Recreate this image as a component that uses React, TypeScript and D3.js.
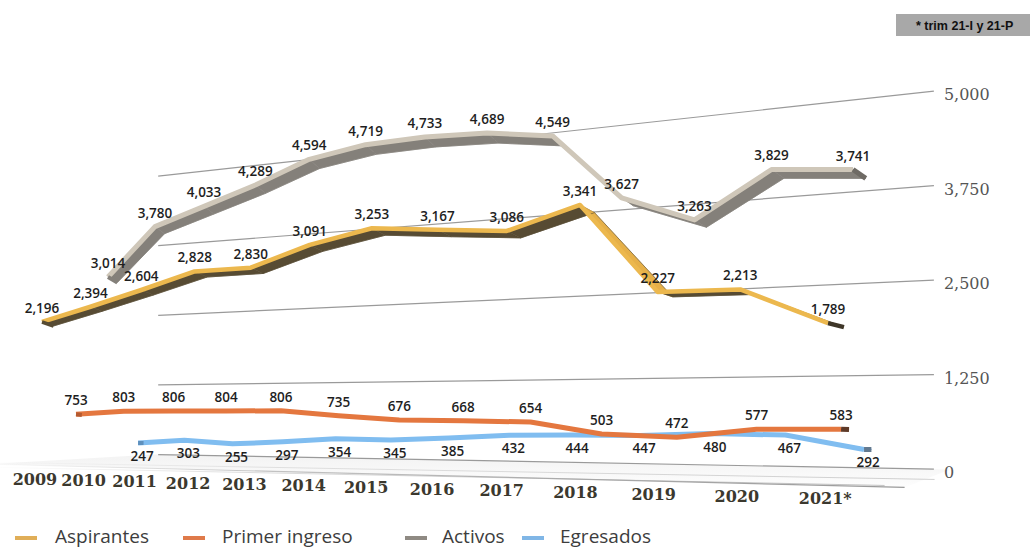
import React from 'react';
import * as d3 from 'd3';

const years = ['2009', '2010', '2011', '2012', '2013', '2014', '2015', '2016', '2017', '2018', '2019', '2020', '2021*'];
const aspirantes = [2196, 2394, 2604, 2828, 2830, 3091, 3253, 3167, 3086, 3341, 2227, 2213, 1789];
const primerIngreso = [753, 803, 806, 804, 806, 735, 676, 668, 654, 503, 472, 577, 583];
const activos = [3014, 3780, 4033, 4289, 4594, 4719, 4733, 4689, 4549, 3627, 3263, 3829, 3741];
const egresados = [247, 303, 255, 297, 354, 345, 385, 432, 444, 447, 480, 467, 292];
const axisTicks = [0, 1250, 2500, 3750, 5000];
const seriesNames = ['Aspirantes', 'Primer ingreso', 'Activos', 'Egresados'];
const footnote = '* trim 21-I y 21-P';

// perspective camera (layout constants)
const CAM = { c1: -0.02307, c2: 0.03215, a1: 46.4, a2: 36.47, a3: 42, b1: -9.54, b2: 12.75, b3: 463.4 };
function project(u: number, h: number, z: number): [number, number, number] {
  const den = 1 + CAM.c1 * u + CAM.c2 * z;
  return [(CAM.a1 * u + CAM.a2 * z + CAM.a3) / den, (CAM.b3 + CAM.b1 * u + CAM.b2 * z - h) / den, den];
}

const styles = [
  { z: 0, top: '#ecb84e', face: '#e6b048', under: '#574b33', cap: '#3e3628', width: 4.5, depth: 11.5, dyK: 1, legend: '#e0ae58', below: false },
  { z: 1, top: '#e4773f', face: '#e4773f', under: '#b45a30', cap: '#5e3a28', width: 5, depth: 6, dyK: 0.6, legend: '#df7a4a', below: false },
  { z: 2, top: '#cfc7b9', face: '#c6beb0', under: '#84807a', cap: '#6e6a64', width: 5, depth: 10, dyK: 1, legend: '#8f8a83', below: false },
  { z: 3, top: '#80bdf0', face: '#80bdf0', under: '#5e90bd', cap: '#62798f', width: 5, depth: 6, dyK: 0.6, legend: '#80b6e6', below: true },
];
const seriesData = [aspirantes, primerIngreso, activos, egresados];
const legendSwatchX = [15, 183, 405, 522];
const legendTextX = [55, 222, 442, 560];

export default function App() {
  const uScale = d3.scalePoint<string>().domain(years).range([0, 12]);
  const hScale = d3.scaleLinear().domain([0, 5000]).range([0, 322]);
  const line = d3.line<[number, number]>();
  const fmt = d3.format(',');

  const wallZ = 4.5;
  const uStart = -0.5;
  const uEnd = 12.7;

  const gridLines = axisTicks.map((t) => {
    const a = project(uStart, hScale(t), wallZ);
    const b = project(uEnd, hScale(t), wallZ);
    return { t, a, b };
  });

  const floorPts: [number, number][] = [
    [-0.6, -0.7], [12.9, -0.7], [12.9, wallZ], [-0.6, wallZ],
  ].map(([u, z]) => {
    const p = project(u, 0, z);
    return [p[0], p[1]];
  });

  const order = [3, 2, 1, 0];
  const ribbons = order.map((si) => {
    const st = styles[si];
    const vals = seriesData[si];
    const pts = vals.map((v, i) => {
      const [x, y, den] = project(uScale(years[i])!, hScale(v), st.z);
      const dx = st.depth / den;
      const dy = st.dyK * (1.5 + 0.032 * (400 - y));
      return { x, y, bx: x + dx, by: y + dy, v };
    });
    const quads = [] as { d: string; fill: string }[];
    for (let i = 0; i < pts.length - 1; i++) {
      const a = pts[i];
      const b = pts[i + 1];
      const sx = b.x - a.x;
      const sy = b.y - a.y;
      const ddx = a.bx - a.x;
      const ddy = a.by - a.y;
      const cross = sx * ddy - sy * ddx;
      quads.push({
        d: line([[a.x, a.y], [b.x, b.y], [b.bx, b.by], [a.bx, a.by]]) + 'Z',
        fill: cross > 0 ? st.under : st.face,
      });
    }
    return { si, st, pts, quads };
  });

  return (
    <svg width={1030} height={550} style={{ position: 'absolute', left: 0, top: 0, background: '#fff' }}>
      <defs>
        <linearGradient id="floorEdge" x1="0" x2="1" y1="0" y2="0">
          <stop offset="0" stopColor="#bbb" stopOpacity={0} />
          <stop offset="0.3" stopColor="#aaa" stopOpacity={0.7} />
          <stop offset="1" stopColor="#999" stopOpacity={1} />
        </linearGradient>
        <linearGradient id="zeroRight" x1="0" x2="1" y1="0" y2="0">
          <stop offset="0" stopColor="#999" stopOpacity={1} />
          <stop offset="1" stopColor="#ccc" stopOpacity={0} />
        </linearGradient>
        <linearGradient id="floorFill" x1="0" x2="0" y1="0" y2="1">
          <stop offset="0" stopColor="#e4e4e4" />
          <stop offset="1" stopColor="#fbfbfb" />
        </linearGradient>
      </defs>

      {/* floor */}
      <path d={line(floorPts) + 'Z'} fill="url(#floorFill)" opacity={0.45} />
      <path d={line([floorPts[0], floorPts[1]])!} stroke="url(#floorEdge)" strokeWidth={1.2} fill="none" />
      <path
        d={line([[floorPts[0][0], floorPts[0][1] + 3], [floorPts[1][0] - 20, floorPts[1][1] - 2]])!}
        stroke="url(#floorEdge)"
        strokeWidth={1}
        fill="none"
        opacity={0.6}
      />
      <path
        d={line([[floorPts[0][0], floorPts[0][1] - 2], [floorPts[1][0] + 30, floorPts[1][1] - 8]])!}
        stroke="url(#floorEdge)"
        strokeWidth={1}
        fill="none"
        opacity={0.45}
      />

      {/* wall gridlines */}
      {gridLines.map((g) => (
        <g key={g.t}>
          <line x1={g.a[0]} y1={g.a[1]} x2={g.b[0]} y2={g.b[1]} stroke="#9a9a9a" strokeWidth={1.2} />
          <text
            x={g.b[0] + 10}
            y={g.b[1] + 9}
            fontFamily="DejaVu Serif"
            fontSize={16}
            fill="#555"
          >
            {fmt(g.t)}
          </text>
        </g>
      ))}
      <line
        x1={gridLines[0].b[0] + 28}
        y1={gridLines[0].b[1] + 3}
        x2={1030}
        y2={gridLines[0].b[1] + 3}
        stroke="url(#zeroRight)"
        strokeWidth={1.2}
      />

      {/* ribbons */}
      {ribbons.map((r) => (
        <g key={r.si}>
          {r.quads.map((q, i) => (
            <path key={i} d={q.d} fill={q.fill} stroke={q.fill} strokeWidth={0.6} strokeLinejoin="round" />
          ))}
          <path
            d={line(r.pts.map((p) => [p.bx, p.by] as [number, number]))!}
            fill="none"
            stroke={r.st.under}
            strokeWidth={1}
            opacity={0.6}
          />
          <path
            d={line(r.pts.map((p) => [p.x, p.y] as [number, number]))!}
            fill="none"
            stroke={r.st.top}
            strokeWidth={r.st.width}
            strokeLinejoin="round"
          />
          <path
            d={line([[r.pts[r.pts.length - 1].x, r.pts[r.pts.length - 1].y], [r.pts[r.pts.length - 1].bx, r.pts[r.pts.length - 1].by]])!}
            fill="none"
            stroke={r.st.cap}
            strokeWidth={r.st.width}
          />
          <path
            d={line([[r.pts[0].x, r.pts[0].y], [r.pts[0].bx, r.pts[0].by]])!}
            fill="none"
            stroke={r.st.under}
            strokeWidth={r.st.width - 1}
          />
        </g>
      ))}

      {/* data labels */}
      {ribbons.map((r) => (
        <g key={'l' + r.si}>
          {r.pts.map((p, i) => (
            <text
              key={i}
              x={p.x + (r.st.below ? 4 : 0)}
              y={r.st.below ? p.y + 18 : p.y - 9}
              textAnchor="middle"
              fontFamily="Open Sans"
              fontWeight={600}
              fontSize={13.5}
              fill="#1e1e1e"
            >
              {fmt(p.v)}
            </text>
          ))}
        </g>
      ))}

      {/* year labels */}
      {years.map((yr) => {
        const [x, y] = project(uScale(yr)!, 0, -0.2);
        return (
          <text
            key={yr}
            x={x}
            y={y + 21}
            textAnchor="middle"
            fontFamily="DejaVu Serif"
            fontWeight="bold"
            fontSize={16}
            fill="#3b382e"
          >
            {yr}
          </text>
        );
      })}

      {/* legend */}
      {seriesNames.map((name, i) => (
        <g key={name}>
          <line x1={legendSwatchX[i]} x2={legendSwatchX[i] + 22} y1={538} y2={538} stroke={styles[i].legend} strokeWidth={4} />
          <text x={legendTextX[i]} y={543} fontFamily="Open Sans" fontSize={19} fill="#3d3d3d">
            {name}
          </text>
        </g>
      ))}

      {/* footnote box */}
      <rect x={896} y={14} width={140} height={22} fill="#a8a8a8" />
      <text x={916} y={29.5} fontFamily="Liberation Sans" fontWeight="bold" fontSize={12.5} fill="#111">
        {footnote}
      </text>
    </svg>
  );
}
